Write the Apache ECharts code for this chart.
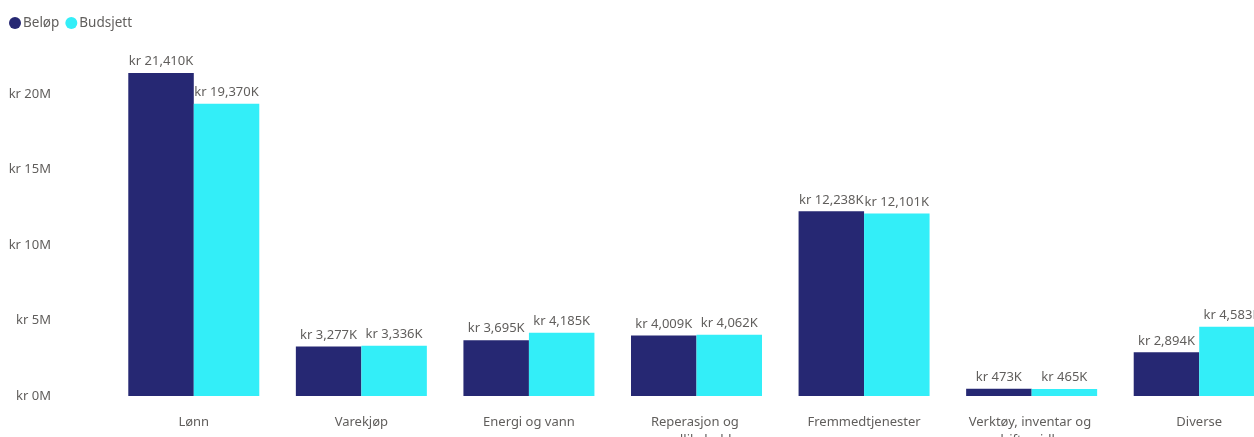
<!DOCTYPE html>
<html>
<head>
<meta charset="utf-8">
<script src="https://cdn.jsdelivr.net/npm/echarts@6/dist/echarts.min.js"></script>
<style>
html,body{margin:0;padding:0;background:#fff;}
#chart{width:1254px;height:437px;}
</style>
</head>
<body>
<div id="chart"></div>
<script>
const categories = ['Lønn','Varekjøp','Energi og vann','Reperasjon og vedlikehold','Fremmedtjenester','Verktøy, inventar og driftsmidler','Diverse'];
const belop = [21410000, 3277000, 3695000, 4009000, 12238000, 473000, 2894000];
const budsjett = [19370000, 3336000, 4185000, 4062000, 12101000, 465000, 4583000];
const seriesNames = ['Beløp','Budsjett'];
const colors = ['#262873','#33EEF8'];
const FONT = 'Noto Sans';
const TXT = '#605E5C';

const fmtK = v => 'kr ' + Math.round(v/1000).toLocaleString('en-US') + 'K';

const chart = echarts.init(document.getElementById('chart'));
chart.setOption({
  animation: false,
  textStyle: {fontFamily: FONT},
  legend: {
    left: 4, top: 11,
    icon: 'circle', itemWidth: 12, itemHeight: 12, itemGap: 6,
    textStyle: {fontFamily: FONT, fontSize: 13.5, color: TXT, padding: [0,0,0,-3]},
    data: seriesNames
  },
  grid: {left: 110, width: 1173, top: 64, height: 332, containLabel: false, outerBoundsMode: 'none'},
  xAxis: {
    type: 'category',
    data: categories,
    axisLine: {show: false},
    axisTick: {show: false},
    axisLabel: {
      interval: 0, margin: 17, fontSize: 13, color: TXT, fontFamily: FONT,
      width: 140, overflow: 'break', lineHeight: 18
    }
  },
  yAxis: {
    type: 'value',
    min: 0, max: 22000000, interval: 5000000,
    splitLine: {show: false},
    axisLine: {show: false},
    axisTick: {show: false},
    axisLabel: {
      showMaxLabel: false, margin: 59, fontSize: 13, color: TXT, fontFamily: FONT,
      formatter: v => (v % 5000000 === 0) ? 'kr ' + (v/1000000) + 'M' : ''
    }
  },
  series: [
    {name: seriesNames[0], type: 'bar', data: belop, barWidth: 65.5, barGap: '0%',
     itemStyle: {color: colors[0]},
     label: {show: true, position: 'top', distance: 5, fontSize: 13, color: TXT, fontFamily: FONT, formatter: p => fmtK(p.value)}},
    {name: seriesNames[1], type: 'bar', data: budsjett, barWidth: 65.5, barGap: '0%',
     itemStyle: {color: colors[1]},
     label: {show: true, position: 'top', distance: 5, fontSize: 13, color: TXT, fontFamily: FONT, formatter: p => fmtK(p.value)}}
  ]
});
</script>
</body>
</html>
